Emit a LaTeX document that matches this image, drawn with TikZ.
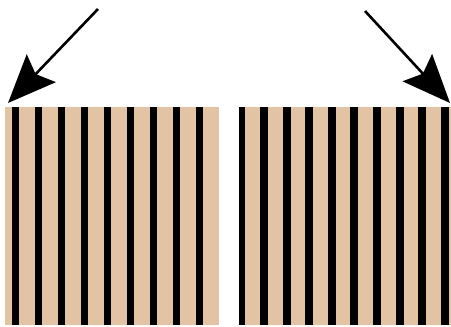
\documentclass[tikz,border=0pt]{standalone}
\usetikzlibrary{arrows.meta}
\definecolor{woodtan}{RGB}{226,196,164}

\begin{document}
\begin{tikzpicture}[x=1pt,y=-1pt,>={Stealth[length=48pt,width=40pt,inset=8pt]},line join=miter]
\useasboundingbox (0,0) rectangle (451,327);
% left panel
\fill[woodtan] (5,107) rectangle (219,325);
\foreach \k in {0,...,8}
  \fill[black] ({12.3+23*\k},107) rectangle ({19.3+23*\k},325);
% right panel
\fill[woodtan] (239,107) rectangle (451,325);
\fill[black] (239,107) rectangle (245.4,325);
\foreach \k in {0,...,8}
  \fill[black] ({260+22.6*\k},107) rectangle ({268+22.6*\k},325);
% arrows
\coordinate (lstart) at (98,9);
\coordinate (ltip) at (8,103);
\coordinate (rstart) at (365,11);
\coordinate (rtip) at (450,103);
\draw[->,line width=2.6pt] (lstart) -- (ltip);
\draw[->,line width=2.6pt] (rstart) -- (rtip);
\end{tikzpicture}
\end{document}
